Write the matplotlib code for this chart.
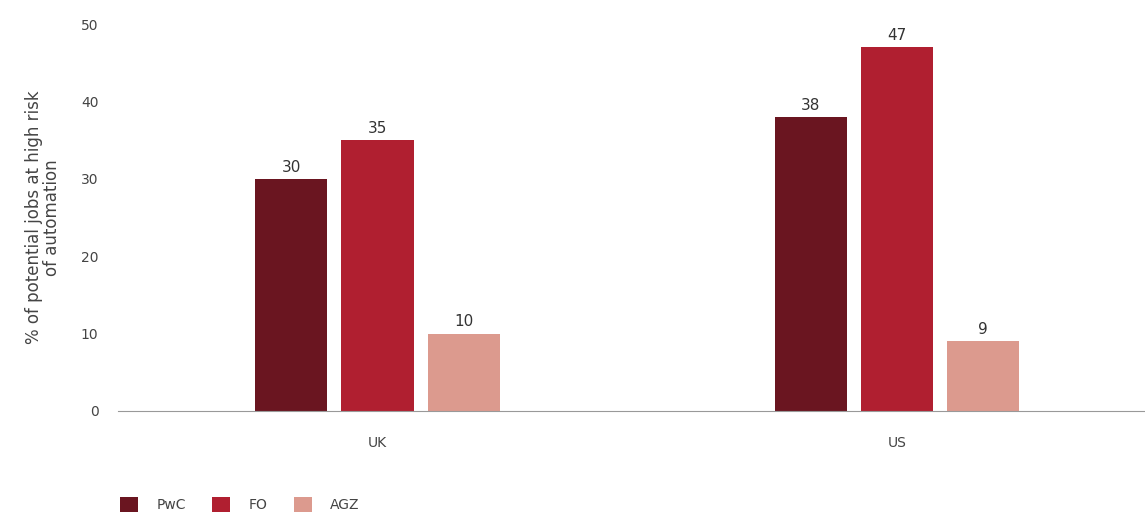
import matplotlib.pyplot as plt
import numpy as np

countries = ["UK", "US"]
series = ["PwC", "FO", "AGZ"]
pwc = [30, 38]
fo = [35, 47]
agz = [10, 9]
colors = ["#6a1520", "#b01f30", "#dc9a8e"]

plt.rcParams["font.family"] = "DejaVu Sans"

fig = plt.figure(figsize=(11.45, 5.18), dpi=100)
ax = fig.add_axes([0.103, 0.2066, 0.897, 0.747])

x = np.arange(len(countries))
width = 0.139
step = 0.166
for i, (name, vals) in enumerate(zip(series, [pwc, fo, agz])):
    bars = ax.bar(x + (i - 1) * step, vals, width, color=colors[i], label=name)
    ax.bar_label(bars, labels=[str(v) for v in vals], padding=3,
                 fontsize=11, color="#333333")

ax.set_xlim(-0.5, 1.478)
ax.set_ylim(0, 50)
ax.set_yticks([0, 10, 20, 30, 40, 50])
ax.set_xticks(x)
ax.set_xticklabels(countries)
ax.tick_params(axis="both", length=0, labelsize=10, colors="#444444")
ax.tick_params(axis="x", pad=18)
ax.tick_params(axis="y", pad=14)
for s in ["top", "right", "left"]:
    ax.spines[s].set_visible(False)
ax.spines["bottom"].set_color("#999999")
ax.set_ylabel("% of potential jobs at high risk\nof automation", fontsize=12,
              color="#444444", labelpad=14, linespacing=1.0)

ax.legend(loc="upper left", bbox_to_anchor=(-0.01, -0.19), ncol=3, frameon=False,
          fontsize=10, handlelength=1.3, handleheight=1.3, columnspacing=1.9,
          handletextpad=1.3, labelcolor="#444444")

fig.savefig("out.png", dpi=100)
